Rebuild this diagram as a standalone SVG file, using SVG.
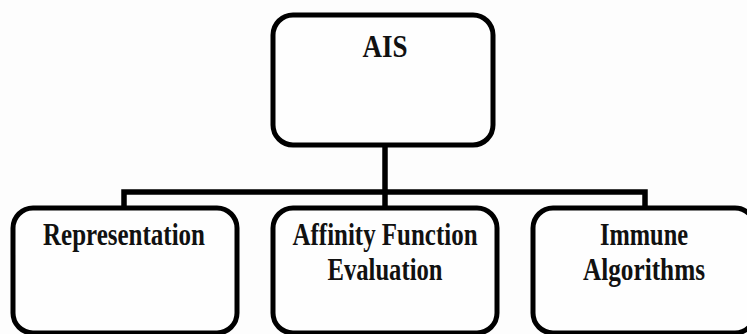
<svg xmlns="http://www.w3.org/2000/svg" width="747" height="334" viewBox="0 0 747 334">
<style>
.box{fill:#fefefe;stroke:#000;stroke-width:5}
.ln{fill:none;stroke:#000;stroke-width:5.5}
.t{font-family:"Liberation Serif","Times New Roman",serif;font-weight:bold;font-size:32px;fill:#111;text-anchor:middle}
</style>
<rect width="747" height="334" fill="#fdfdfd"/>
<g id="connectors">
<line class="ln" x1="385" y1="145" x2="385" y2="192"/>
<polyline class="ln" points="124,208 124,192 645,192 645,208"/>
<line class="ln" x1="385" y1="192" x2="385" y2="208"/>
</g>
<g id="ais">
<rect class="box" x="273" y="15" width="220" height="130" rx="20"/>
<text class="t" x="385" y="57" font-size="35" textLength="45" lengthAdjust="spacingAndGlyphs">AIS</text>
</g>
<g id="representation">
<rect class="box" x="13" y="208" width="224" height="125" rx="20"/>
<text class="t" x="124" y="245" textLength="162" lengthAdjust="spacingAndGlyphs">Representation</text>
</g>
<g id="affinity">
<rect class="box" x="273" y="208" width="224" height="125" rx="20"/>
<text class="t" x="385" y="245" textLength="185" lengthAdjust="spacingAndGlyphs">Affinity Function</text>
<text class="t" x="385" y="280" textLength="115" lengthAdjust="spacingAndGlyphs">Evaluation</text>
</g>
<g id="immune">
<rect class="box" x="533" y="208" width="222" height="125" rx="20"/>
<text class="t" x="644" y="245" textLength="88" lengthAdjust="spacingAndGlyphs">Immune</text>
<text class="t" x="644" y="280" textLength="122" lengthAdjust="spacingAndGlyphs">Algorithms</text>
</g>
</svg>
